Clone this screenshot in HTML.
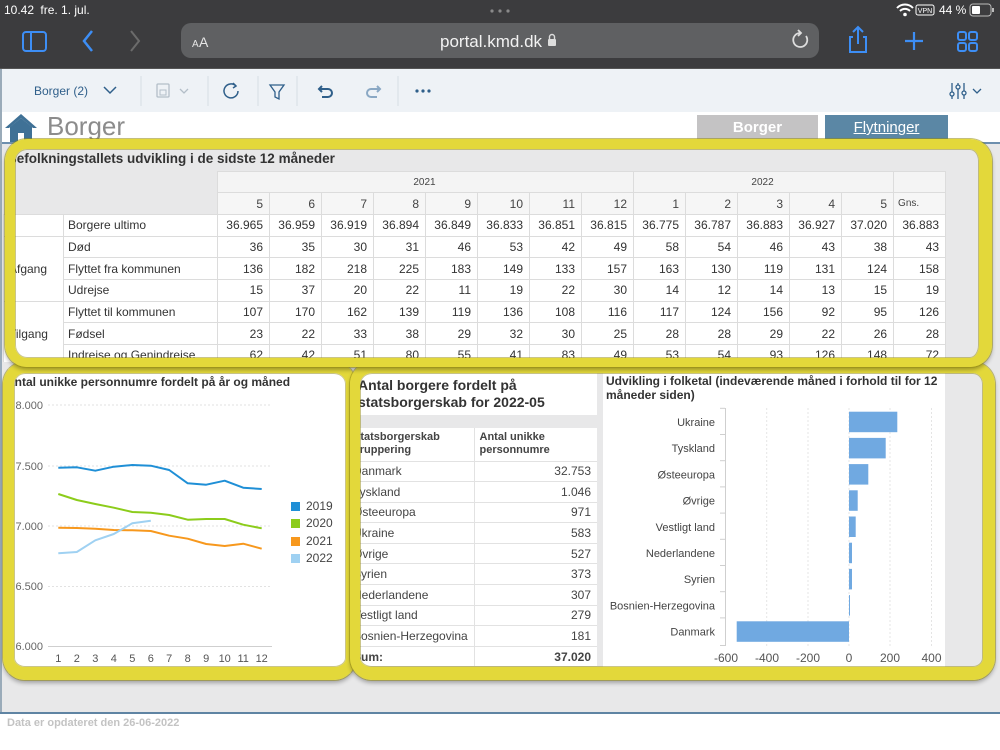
<!DOCTYPE html>
<html><head><meta charset="utf-8">
<style>
*{box-sizing:border-box;margin:0;padding:0}
body{width:1000px;height:750px;overflow:hidden;position:relative;font-family:"Liberation Sans",Arial,sans-serif;background:#e8e8e9}
.abs{position:absolute}
.frame{position:absolute;border-style:solid;border-color:#e3d83a;border-radius:22px;box-shadow:0 0 0 1px rgba(150,140,20,.55),inset 0 0 0 1px rgba(150,140,20,.5),0 3px 4px rgba(0,0,0,.3);z-index:20}
.t1{position:absolute;left:3px;top:171px;border-collapse:collapse;table-layout:fixed;width:942px;font-size:12px;color:#333}
.t1 td{border:1px solid #dcdcdc;padding:0 6px 0 4px;text-align:right;white-space:nowrap;overflow:hidden;background:#fff}
.t1 td.l{text-align:left;padding-left:4px}
.t1 td.g{text-align:left;padding-left:5px;vertical-align:middle}
.t1 td.y{background:#f4f4f4;font-size:10px;text-align:center;color:#444}
.t1 td.m{background:#f6f6f6;color:#444}
.t1 td.gb{background:#e8e8e9;border-color:#e8e8e9 #dcdcdc #dcdcdc #e8e8e9}
.t1 tr.d td{height:21.67px}
.t2{position:absolute;left:350px;top:428px;width:247px;border-collapse:collapse;table-layout:fixed;font-size:12px;color:#444;background:#fff}
.t2 td{border-bottom:1px solid #e2e2e2;padding:0 6px 0 3px;white-space:nowrap;height:20.6px}
.t2 td+td{border-left:1px solid #e2e2e2;text-align:right}
.t2 tr.h td{height:33px;font-weight:bold;font-size:11px;line-height:13px;text-align:left;vertical-align:middle;color:#444}
.t2 tr.h td+td{padding-left:5px}
.t2 tr.s td{font-weight:bold}
</style></head><body>

<!-- browser chrome -->
<svg class="abs" style="left:0;top:0" width="1000" height="69">
<rect width="1000" height="69" fill="#3c3c3e"/>
<rect y="68" width="1000" height="1" fill="#555"/>
<text x="4" y="14" fill="#fff" font-size="12" font-family="Liberation Sans">10.42 <tspan dx="3">fre. 1. jul.</tspan></text>
<circle cx="492" cy="11" r="1.6" fill="#8a8a8a"/><circle cx="500" cy="11" r="1.6" fill="#8a8a8a"/><circle cx="508" cy="11" r="1.6" fill="#8a8a8a"/>
<path d="M897 8 a11 11 0 0 1 16 0" stroke="#fff" stroke-width="2" fill="none"/>
<path d="M900 11 a7 7 0 0 1 10 0" stroke="#fff" stroke-width="2" fill="none"/>
<circle cx="905" cy="14.5" r="1.8" fill="#fff"/>
<rect x="916" y="5" width="18" height="10" rx="2" stroke="#fff" fill="none"/>
<text x="925" y="13" fill="#fff" font-size="7" text-anchor="middle" font-family="Liberation Sans">VPN</text>
<text x="939" y="14" fill="#fff" font-size="12" font-family="Liberation Sans">44 %</text>
<rect x="970" y="4" width="21" height="12" rx="3" stroke="#bbb" fill="none"/>
<rect x="972" y="6" width="8" height="8" rx="1" fill="#fff"/>
<rect x="992" y="8" width="2" height="4" fill="#bbb"/>
<rect x="181" y="23" width="638" height="35" rx="10" fill="#5f6062"/>
<text x="192" y="47" fill="#e6e6e6" font-size="10" font-family="Liberation Sans">A</text>
<text x="199" y="47" fill="#e6e6e6" font-size="14" font-family="Liberation Sans">A</text>
<text x="440" y="47" fill="#f2f2f2" font-size="17" font-family="Liberation Sans">portal.kmd.dk</text>
<rect x="548" y="39" width="8" height="7" rx="1" fill="#ddd"/>
<path d="M549.5 39 v-2 a2.5 2.5 0 0 1 5 0 v2" stroke="#ddd" stroke-width="1.4" fill="none"/>
<path d="M806 36 a7 7 0 1 1 -6 -3" stroke="#ddd" stroke-width="1.8" fill="none"/>
<path d="M798 30 l3 3 l-3 3" stroke="#ddd" stroke-width="1.8" fill="none"/>
<rect x="23" y="32" width="23" height="19" rx="3" stroke="#3d8ef5" stroke-width="2" fill="none"/>
<line x1="31" y1="32" x2="31" y2="51" stroke="#3d8ef5" stroke-width="2"/>
<polyline points="92,31 84,41 92,51" stroke="#3d8ef5" stroke-width="2.5" fill="none"/>
<polyline points="131,31 139,41 131,51" stroke="#6b6b6b" stroke-width="2" fill="none"/>
<path d="M853 37 h-3 v15 h16 v-15 h-3" stroke="#3d8ef5" stroke-width="2" fill="none"/>
<path d="M858 44 v-16 M853 32 l5 -5 l5 5" stroke="#3d8ef5" stroke-width="2" fill="none"/>
<path d="M905 41 h18 M914 32 v18" stroke="#3d8ef5" stroke-width="2.2"/>
<rect x="958" y="32" width="8" height="8" rx="2" stroke="#3d8ef5" stroke-width="2" fill="none"/>
<rect x="969" y="32" width="8" height="8" rx="2" stroke="#3d8ef5" stroke-width="2" fill="none"/>
<rect x="958" y="43" width="8" height="8" rx="2" stroke="#3d8ef5" stroke-width="2" fill="none"/>
<rect x="969" y="43" width="8" height="8" rx="2" stroke="#3d8ef5" stroke-width="2" fill="none"/>
</svg>

<!-- app toolbar -->
<svg class="abs" style="left:0;top:69px" width="1000" height="43">
<rect width="1000" height="43" fill="#eef2f6"/>
<text x="34" y="26" fill="#2f5f8a" font-size="12" font-family="Liberation Sans">Borger (2)</text>
<polyline points="104,18 110,24 116,18" stroke="#2f5f8a" stroke-width="1.5" fill="none"/>
<g stroke="#d6dde4"><line x1="141" y1="7" x2="141" y2="37"/><line x1="208" y1="7" x2="208" y2="37"/><line x1="258" y1="7" x2="258" y2="37"/><line x1="297" y1="7" x2="297" y2="37"/><line x1="398" y1="7" x2="398" y2="37"/></g>
<rect x="157" y="15" width="12" height="13" rx="1" stroke="#b3bec8" stroke-width="1.3" fill="none"/>
<rect x="160" y="21" width="6" height="5" stroke="#b3bec8" fill="none"/>
<polyline points="180,20 184,24 188,20" stroke="#b3bec8" stroke-width="1.3" fill="none"/>
<path d="M236 17 a7 7 0 1 0 2 5" stroke="#2f5f8a" stroke-width="1.5" fill="none"/>
<path d="M233 14 l3 3 l-3 2" stroke="#2f5f8a" stroke-width="1.5" fill="none"/>
<path d="M270 16 h14 l-5 7 v7 l-4 -2 v-5 z" stroke="#2f5f8a" stroke-width="1.3" fill="none"/>
<path d="M322 17 l-3 3 l3 3 M319 20 h9 a4 4 0 0 1 0 8 h-6" stroke="#2f5f8a" stroke-width="2" fill="none"/>
<path d="M377 17 l3 3 l-3 3 M380 20 h-9 a4 4 0 0 0 0 8 h6" stroke="#8aa8c4" stroke-width="2" fill="none"/>
<circle cx="417" cy="22" r="1.6" fill="#2f5f8a"/><circle cx="423" cy="22" r="1.6" fill="#2f5f8a"/><circle cx="429" cy="22" r="1.6" fill="#2f5f8a"/>
<g stroke="#2f5f8a" stroke-width="1.3" fill="none"><line x1="952" y1="14" x2="952" y2="30"/><line x1="958" y1="14" x2="958" y2="30"/><line x1="964" y1="14" x2="964" y2="30"/>
<circle cx="952" cy="25" r="2" fill="#eef2f6"/><circle cx="958" cy="18" r="2" fill="#eef2f6"/><circle cx="964" cy="24" r="2" fill="#eef2f6"/></g>
<polyline points="973,20 977,24 981,20" stroke="#2f5f8a" stroke-width="1.3" fill="none"/>
</svg>

<!-- page header -->
<div class="abs" style="left:0;top:112px;width:1000px;height:31px;background:#fff"></div>
<svg class="abs" style="left:0;top:112px" width="60" height="31">
<polygon points="5,16 21,2 37,16 33,16 21,6 9,16" fill="#3f7196"/>
<path d="M10 15 L21 6 L32 15 V31 H10 Z" fill="#3f7196"/>
<rect x="18" y="21" width="6" height="10" fill="#fff"/>
</svg>
<div class="abs" style="left:47px;top:110px;font-size:26px;color:#8c8c8c;line-height:32px">Borger</div>
<div class="abs" style="left:697px;top:115px;width:121px;height:25px;background:#c4c3c4;color:#fff;font-weight:bold;font-size:15px;text-align:center;line-height:25px">Borger</div>
<div class="abs" style="left:825px;top:115px;width:123px;height:25px;background:#5b87a5;color:#fff;font-size:15px;text-align:center;line-height:25px;text-decoration:underline">Flytninger</div>
<div class="abs" style="left:0;top:142px;width:1000px;height:2px;background:#6d8fae"></div>
<div class="abs" style="left:0;top:69px;width:2px;height:681px;background:#9aabb9"></div>

<!-- footer -->
<div class="abs" style="left:0;top:712px;width:1000px;height:38px;background:#fff;border-top:2px solid #5f84a3"></div>
<div class="abs" style="left:7px;top:717px;font-size:11px;font-weight:bold;color:#c3c3c3">Data er opdateret den 26-06-2022</div>

<!-- panel 1 -->
<div class="abs" style="left:0;top:144px;width:1000px;height:218px;overflow:hidden">
 <div class="abs" style="left:7px;top:6px;font-size:13.5px;font-weight:bold;color:#333;line-height:17px;white-space:nowrap">Befolkningstallets udvikling i de sidste 12 måneder</div>
 <table class="t1" style="top:27px">
  <colgroup><col style="width:60px"><col style="width:154px"><col span="14" style="width:52px"></colgroup>
  <tr style="height:21px"><td class="gb" colspan="2" rowspan="2"></td><td class="y" colspan="8">2021</td><td class="y" colspan="5">2022</td><td class="y"></td></tr>
  <tr style="height:22px"><td class="m">5</td><td class="m">6</td><td class="m">7</td><td class="m">8</td><td class="m">9</td><td class="m">10</td><td class="m">11</td><td class="m">12</td><td class="m">1</td><td class="m">2</td><td class="m">3</td><td class="m">4</td><td class="m">5</td><td class="m" style="text-align:left;font-size:10px">Gns.</td></tr>
  <tr class="d"><td class="g"></td><td class="l">Borgere ultimo</td><td>36.965</td><td>36.959</td><td>36.919</td><td>36.894</td><td>36.849</td><td>36.833</td><td>36.851</td><td>36.815</td><td>36.775</td><td>36.787</td><td>36.883</td><td>36.927</td><td>37.020</td><td>36.883</td></tr>
  <tr class="d"><td class="g" rowspan="3">Afgang</td><td class="l">Død</td><td>36</td><td>35</td><td>30</td><td>31</td><td>46</td><td>53</td><td>42</td><td>49</td><td>58</td><td>54</td><td>46</td><td>43</td><td>38</td><td>43</td></tr>
  <tr class="d"><td class="l">Flyttet fra kommunen</td><td>136</td><td>182</td><td>218</td><td>225</td><td>183</td><td>149</td><td>133</td><td>157</td><td>163</td><td>130</td><td>119</td><td>131</td><td>124</td><td>158</td></tr>
  <tr class="d"><td class="l">Udrejse</td><td>15</td><td>37</td><td>20</td><td>22</td><td>11</td><td>19</td><td>22</td><td>30</td><td>14</td><td>12</td><td>14</td><td>13</td><td>15</td><td>19</td></tr>
  <tr class="d"><td class="g" rowspan="3">Tilgang</td><td class="l">Flyttet til kommunen</td><td>107</td><td>170</td><td>162</td><td>139</td><td>119</td><td>136</td><td>108</td><td>116</td><td>117</td><td>124</td><td>156</td><td>92</td><td>95</td><td>126</td></tr>
  <tr class="d"><td class="l">Fødsel</td><td>23</td><td>22</td><td>33</td><td>38</td><td>29</td><td>32</td><td>30</td><td>25</td><td>28</td><td>28</td><td>29</td><td>22</td><td>26</td><td>28</td></tr>
  <tr class="d"><td class="l">Indreise og Genindreise</td><td>62</td><td>42</td><td>51</td><td>80</td><td>55</td><td>41</td><td>83</td><td>49</td><td>53</td><td>54</td><td>93</td><td>126</td><td>148</td><td>72</td></tr>
 </table>
</div>

<!-- panel 2: line chart bg -->
<div class="abs" style="left:8px;top:368px;width:343px;height:306px;background:#fff"></div>
<div class="abs" style="left:6px;top:375px;font-size:12px;font-weight:bold;color:#333;line-height:14px;white-space:nowrap">Antal unikke personnumre fordelt på år og måned</div>

<!-- panel 3 middle -->
<div class="abs" style="left:350px;top:373px;width:247px;height:42px;background:#fff"></div>
<div class="abs" style="left:358px;top:377px;font-size:14px;font-weight:bold;color:#333;line-height:17px;white-space:nowrap">Antal borgere fordelt på<br>statsborgerskab for 2022-05</div>
<table class="t2">
 <colgroup><col style="width:124px"><col style="width:123px"></colgroup>
 <tr class="h"><td>Statsborgerskab<br>gruppering</td><td>Antal unikke<br>personnumre</td></tr>
 <tr><td>Danmark</td><td>32.753</td></tr>
 <tr><td>Tyskland</td><td>1.046</td></tr>
 <tr><td>Østeeuropa</td><td>971</td></tr>
 <tr><td>Ukraine</td><td>583</td></tr>
 <tr><td>Øvrige</td><td>527</td></tr>
 <tr><td>Syrien</td><td>373</td></tr>
 <tr><td>Nederlandene</td><td>307</td></tr>
 <tr><td>Vestligt land</td><td>279</td></tr>
 <tr><td>Bosnien-Herzegovina</td><td>181</td></tr>
 <tr class="s"><td>Sum:</td><td>37.020</td></tr>
</table>

<!-- bar chart bg -->
<div class="abs" style="left:603px;top:368px;width:342px;height:304px;background:#fff"></div>
<div class="abs" style="left:606px;top:375px;font-size:12px;font-weight:bold;color:#333;line-height:13.5px;white-space:nowrap">Udvikling i folketal (indeværende måned i forhold til for 12<br>måneder siden)</div>

<!-- charts -->
<svg class="abs" style="left:0;top:0;z-index:5" width="1000" height="750" font-family="Liberation Sans, Arial, sans-serif">
 <defs><clipPath id="yl"><rect x="15" y="390" width="40" height="270"/></clipPath></defs>
 <!-- line chart -->
 <g stroke="#e2e2e2" stroke-dasharray="2,2">
  <line x1="48" y1="405" x2="272" y2="405"/><line x1="48" y1="466" x2="272" y2="466"/><line x1="48" y1="526" x2="272" y2="526"/><line x1="48" y1="586.5" x2="272" y2="586.5"/>
 </g>
 <line x1="48" y1="646.5" x2="272" y2="646.5" stroke="#cfcfcf"/>
 <g fill="#666" font-size="11" text-anchor="end" clip-path="url(#yl)">
  <text x="43" y="409">38.000</text><text x="43" y="470">37.500</text><text x="43" y="530">37.000</text><text x="43" y="590">36.500</text><text x="43" y="650">36.000</text>
 </g>
 <g fill="#555" font-size="11" text-anchor="middle">
  <text x="58.3" y="662">1</text><text x="76.8" y="662">2</text><text x="95.3" y="662">3</text><text x="113.8" y="662">4</text><text x="132.3" y="662">5</text><text x="150.8" y="662">6</text><text x="169.2" y="662">7</text><text x="187.7" y="662">8</text><text x="206.2" y="662">9</text><text x="224.7" y="662">10</text><text x="243.2" y="662">11</text><text x="261.7" y="662">12</text>
 </g>
 <g fill="none" stroke-width="2" stroke-linejoin="round">
  <polyline stroke="#1f8fd6" points="58.3,467.7 76.8,467.3 95.3,470.7 113.8,466.7 132.3,465 150.8,465.7 169.2,470 187.7,483.3 206.2,484.7 224.7,480.7 243.2,487.7 261.7,489"/>
  <polyline stroke="#8ccc1b" points="58.3,494 76.8,500 95.3,504 113.8,507.7 132.3,512 150.8,512.7 169.2,515 187.7,519.7 206.2,519 224.7,519 243.2,524.7 261.7,528.3"/>
  <polyline stroke="#f7981d" points="58.3,527.7 76.8,528 95.3,528.7 113.8,530 132.3,530.3 150.8,531 169.2,535.7 187.7,538.7 206.2,544 224.7,546 243.2,543.7 261.7,548.7"/>
  <polyline stroke="#9fd1f2" points="58.3,553.3 76.8,552 95.3,540.3 113.8,534 132.3,523.3 150.8,520.7"/>
 </g>
 <rect x="291" y="502" width="9" height="9" fill="#1f8fd6"/>
 <rect x="291" y="519" width="9" height="9" fill="#8ccc1b"/>
 <rect x="291" y="537" width="9" height="9" fill="#f7981d"/>
 <rect x="291" y="554" width="9" height="9" fill="#9fd1f2"/>
 <g fill="#444" font-size="12">
  <text x="306" y="510">2019</text><text x="306" y="527">2020</text><text x="306" y="545">2021</text><text x="306" y="562">2022</text>
 </g>

 <!-- bar chart -->
 <g stroke="#e4e4e4" stroke-dasharray="2,2">
  <line x1="766.7" y1="408" x2="766.7" y2="646"/><line x1="808" y1="408" x2="808" y2="646"/><line x1="849" y1="408" x2="849" y2="646"/><line x1="890" y1="408" x2="890" y2="646"/><line x1="931.5" y1="408" x2="931.5" y2="646"/>
 </g>
 <line x1="725.5" y1="408" x2="725.5" y2="646" stroke="#cfcfcf"/>
 <g stroke="#cfcfcf">
  <line x1="720" y1="408.3" x2="725" y2="408.3"/><line x1="720" y1="434.5" x2="725" y2="434.5"/><line x1="720" y1="460.7" x2="725" y2="460.7"/><line x1="720" y1="486.9" x2="725" y2="486.9"/><line x1="720" y1="513.1" x2="725" y2="513.1"/><line x1="720" y1="539.3" x2="725" y2="539.3"/><line x1="720" y1="565.5" x2="725" y2="565.5"/><line x1="720" y1="591.7" x2="725" y2="591.7"/><line x1="720" y1="617.9" x2="725" y2="617.9"/><line x1="720" y1="645.5" x2="725" y2="645.5"/>
 </g>
 <g fill="#70a9e1">
  <rect x="849" y="411.7" width="48.3" height="20.5"/>
  <rect x="849" y="437.9" width="36.7" height="20.5"/>
  <rect x="849" y="464.1" width="19.3" height="20.5"/>
  <rect x="849" y="490.3" width="8.7" height="20.5"/>
  <rect x="849" y="516.5" width="6.7" height="20.5"/>
  <rect x="849" y="542.7" width="3" height="20.5"/>
  <rect x="849" y="568.9" width="3" height="20.5"/>
  <rect x="849" y="595.1" width="1" height="20.5"/>
  <rect x="736.7" y="621.3" width="112.3" height="20.5"/>
 </g>
 <g fill="#444" font-size="11" text-anchor="end">
  <text x="715" y="426">Ukraine</text><text x="715" y="452.2">Tyskland</text><text x="715" y="478.4">Østeeuropa</text><text x="715" y="504.6">Øvrige</text><text x="715" y="530.8">Vestligt land</text><text x="715" y="557">Nederlandene</text><text x="715" y="583.2">Syrien</text><text x="715" y="609.4">Bosnien-Herzegovina</text><text x="715" y="635.6">Danmark</text>
 </g>
 <g fill="#555" font-size="12" text-anchor="middle">
  <text x="726" y="662">-600</text><text x="767" y="662">-400</text><text x="808" y="662">-200</text><text x="849" y="662">0</text><text x="890" y="662">200</text><text x="931.5" y="662">400</text>
 </g>
</svg>

<!-- yellow highlight frames -->
<div class="frame" style="left:3px;top:362px;width:353px;height:318px;border-width:11px 10px 13px 11px"></div>
<div class="frame" style="left:350px;top:362px;width:645px;height:318px;border-width:11px 12px 13px 10px"></div>
<div class="frame" style="left:5px;top:139px;width:987px;height:228px;border-width:10px 13px 9px 10px"></div>

</body></html>
